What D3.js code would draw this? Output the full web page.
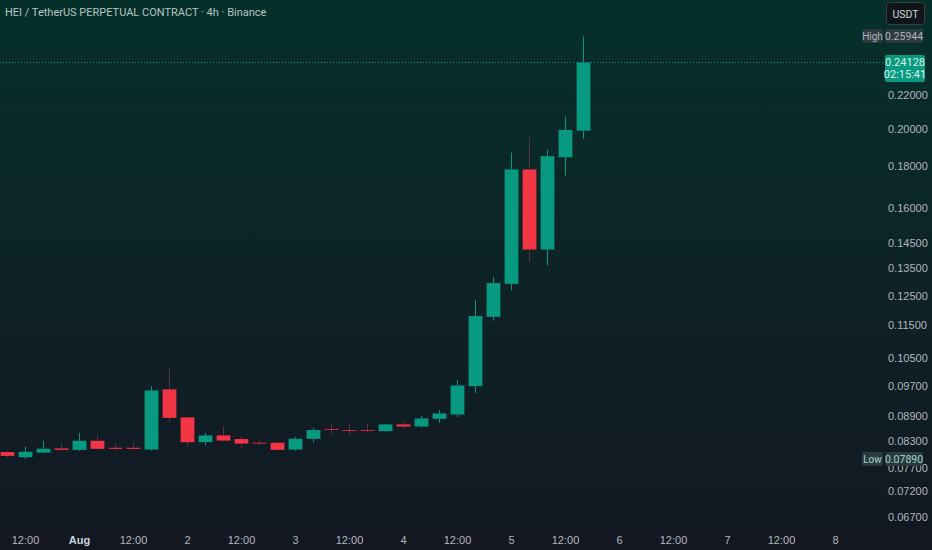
<!DOCTYPE html>
<html>
<head>
  <meta charset="utf-8">
  <title>HEI / TetherUS 4h</title>
  <script src="https://d3js.org/d3.v7.min.js"></script>
  <style>
    body { margin: 0; background: #131722; }
    svg { display: block; font-family: Roboto, "Noto Sans", sans-serif; }
  </style>
</head>
<body>
  <svg width="932" height="550"></svg>
  <script>
    // 4h candles, Jul 31 08:00 -> Aug 5 16:00
    var times = d3.range(33).map(function(i) { return new Date(Date.UTC(2024, 6, 31, 8 + i * 4)); });
    var opens  = [0.08047, 0.07928, 0.08031, 0.08131, 0.08093, 0.08307, 0.08145, 0.08145, 0.08099, 0.09602, 0.08873,
                  0.08270, 0.08434, 0.08348, 0.08261, 0.08261, 0.08099, 0.08348, 0.08586, 0.08560, 0.08560, 0.08531,
                  0.08701, 0.08642, 0.08831, 0.08939, 0.09683, 0.11772, 0.12918, 0.17846, 0.14229, 0.18457, 0.19887];
    var highs  = [0.08070, 0.08169, 0.08307, 0.08237, 0.08490, 0.08434, 0.08247, 0.08270, 0.09683, 0.10167, 0.08880,
                  0.08490, 0.08659, 0.08418, 0.08317, 0.08284, 0.08394, 0.08610, 0.08707, 0.08731, 0.08715, 0.08715,
                  0.08750, 0.08905, 0.09058, 0.09858, 0.12346, 0.13176, 0.18699, 0.19531, 0.18840, 0.20689, 0.25944];
    var lows   = [0.07920, 0.07890, 0.08020, 0.08086, 0.08070, 0.08100, 0.08086, 0.08086, 0.08080, 0.08750, 0.08161,
                  0.08200, 0.08290, 0.08116, 0.08207, 0.08054, 0.08077, 0.08270, 0.08449, 0.08465, 0.08497, 0.08520,
                  0.08586, 0.08618, 0.08741, 0.08873, 0.09495, 0.11649, 0.12691, 0.13737, 0.13610, 0.17545, 0.19450];
    var closes = [0.07957, 0.08054, 0.08123, 0.08093, 0.08307, 0.08116, 0.08116, 0.08116, 0.09574, 0.08856, 0.08270,
                  0.08434, 0.08307, 0.08237, 0.08237, 0.08093, 0.08355, 0.08561, 0.08569, 0.08555, 0.08555, 0.08701,
                  0.08642, 0.08849, 0.08974, 0.09711, 0.11805, 0.12955, 0.17846, 0.14229, 0.18525, 0.19944, 0.24128];
    var priceTicks = [0.22, 0.20, 0.18, 0.16, 0.145, 0.135, 0.125, 0.115, 0.105, 0.097, 0.089, 0.083, 0.077, 0.072, 0.067];
    var timeTicks = d3.range(16).map(function(i) { return new Date(Date.UTC(2024, 6, 31, 12 + i * 12)); });

    var candles = times.map(function(t, i) {
      return { t: t, o: opens[i], h: highs[i], l: lows[i], c: closes[i] };
    });

    var green = "#089981", red = "#f23645", textCol = "#b2b5be";
    var svg = d3.select("svg");

    // background gradient
    var grad = svg.append("defs").append("linearGradient")
      .attr("id", "bg").attr("x1", 0).attr("y1", 0).attr("x2", 0).attr("y2", 1);
    grad.append("stop").attr("offset", "0%").attr("stop-color", "#05302a");
    grad.append("stop").attr("offset", "45%").attr("stop-color", "#0d2427");
    grad.append("stop").attr("offset", "100%").attr("stop-color", "#131722");
    svg.append("rect").attr("width", 932).attr("height", 550).attr("fill", "url(#bg)");

    var x = d3.scaleUtc()
      .domain([new Date(Date.UTC(2024, 6, 31, 0)), new Date(Date.UTC(2024, 7, 8, 0))])
      .range([-29, 835]);
    var y = d3.scaleLog()
      .domain([0.067, 0.22])
      .range([517, 95]);
    var bodyW = 14;

    // current price line
    var last = closes[closes.length - 1];
    svg.append("line")
      .attr("x1", 0).attr("x2", 885)
      .attr("y1", Math.round(y(last)) + 0.5).attr("y2", Math.round(y(last)) + 0.5)
      .attr("stroke", green).attr("stroke-width", 1).attr("stroke-dasharray", "1,2");

    // candles
    var g = svg.append("g");
    g.selectAll("line.wick").data(candles).enter().append("line")
      .attr("class", "wick")
      .attr("x1", function(d) { return Math.round(x(d.t)) + 0.5; })
      .attr("x2", function(d) { return Math.round(x(d.t)) + 0.5; })
      .attr("y1", function(d) { return y(d.h); })
      .attr("y2", function(d) { return y(d.l); })
      .attr("stroke", function(d) { return d.c >= d.o ? green : "#5a3146"; })
      .attr("stroke-width", 1);

    g.selectAll("rect.body").data(candles).enter().append("rect")
      .attr("class", "body")
      .attr("x", function(d) { return Math.round(x(d.t)) - bodyW / 2 + 0.5; })
      .attr("y", function(d) { return y(Math.max(d.o, d.c)); })
      .attr("width", bodyW)
      .attr("height", function(d) { return Math.max(1, y(Math.min(d.o, d.c)) - y(Math.max(d.o, d.c))); })
      .attr("fill", function(d) { return d.c >= d.o ? green : red; })
      .attr("stroke", "rgba(0,0,0,0.25)")
      .attr("stroke-width", 0.5);

    // price axis
    var yAxis = d3.axisRight(y).tickValues(priceTicks)
      .tickFormat(function(d) { return d.toFixed(5); }).tickSize(0);
    var ya = svg.append("g").attr("transform", "translate(888,0)").call(yAxis);
    ya.select(".domain").remove();
    ya.selectAll("text").attr("fill", textCol).attr("font-size", 11).attr("x", 0);

    // time axis
    var xAxis = d3.axisBottom(x).tickValues(timeTicks).tickSize(0)
      .tickFormat(function(d) {
        if (d.getUTCHours() === 12) return "12:00";
        if (d.getUTCDate() === 1) return "Aug";
        return d.getUTCDate();
      });
    var xa = svg.append("g").attr("transform", "translate(0,532)").call(xAxis);
    xa.select(".domain").remove();
    xa.selectAll("text").attr("font-size", 11).attr("dy", "0.32em").attr("y", 8)
      .attr("font-weight", function(d) { return (d.getUTCDate() === 1 && d.getUTCHours() === 0) ? "bold" : null; })
      .attr("fill", function(d) { return (d.getUTCDate() === 1 && d.getUTCHours() === 0) ? "#c7d6dc" : textCol; });

    // high / low markers
    var hi = d3.max(highs), lo = d3.min(lows);
    function marker(label, v, col) {
      var yy = Math.round(y(v));
      svg.append("rect").attr("x", 862).attr("y", yy - 7).attr("width", 21).attr("height", 14)
        .attr("rx", 2).attr("fill", "#2a3a3f");
      svg.append("text").attr("x", 872.5).attr("y", yy).attr("dy", "0.35em")
        .attr("text-anchor", "middle").attr("font-size", 10).attr("fill", col).text(label);
      svg.append("rect").attr("x", 885).attr("y", yy - 7).attr("width", 38).attr("height", 14)
        .attr("rx", 2).attr("fill", "#2a3a3f");
      svg.append("text").attr("x", 904).attr("y", yy).attr("dy", "0.35em")
        .attr("text-anchor", "middle").attr("font-size", 10.5).attr("fill", col).text(v.toFixed(5));
    }
    marker("High", hi, textCol);
    marker("Low", lo, "#9fd7cf");

    // last price tag
    var ly = Math.round(y(last));
    svg.append("rect").attr("x", 885).attr("y", ly - 7).attr("width", 40).attr("height", 27)
      .attr("rx", 2).attr("fill", green);
    svg.append("text").attr("x", 905).attr("y", ly).attr("dy", "0.35em").attr("text-anchor", "middle")
      .attr("font-size", 11).attr("fill", "#d9f2ec").text(last.toFixed(5));
    svg.append("text").attr("x", 905).attr("y", ly + 12).attr("dy", "0.35em").attr("text-anchor", "middle")
      .attr("font-size", 11).attr("fill", "#d9f2ec").text("02:15:41");

    // currency button
    svg.append("rect").attr("x", 886.5).attr("y", 2.5).attr("width", 38).attr("height", 22)
      .attr("rx", 3).attr("fill", "#0f1519").attr("stroke", "#3a4046");
    svg.append("text").attr("x", 905.5).attr("y", 14).attr("dy", "0.35em").attr("text-anchor", "middle")
      .attr("font-size", 10.5).attr("fill", "#d1d4dc").text("USDT");

    // title
    svg.append("text").attr("x", 5).attr("y", 12).attr("dy", "0.35em")
      .attr("font-size", 11).attr("fill", "#b7c3c4")
      .text("HEI / TetherUS PERPETUAL CONTRACT · 4h · Binance");
  </script>
</body>
</html>
